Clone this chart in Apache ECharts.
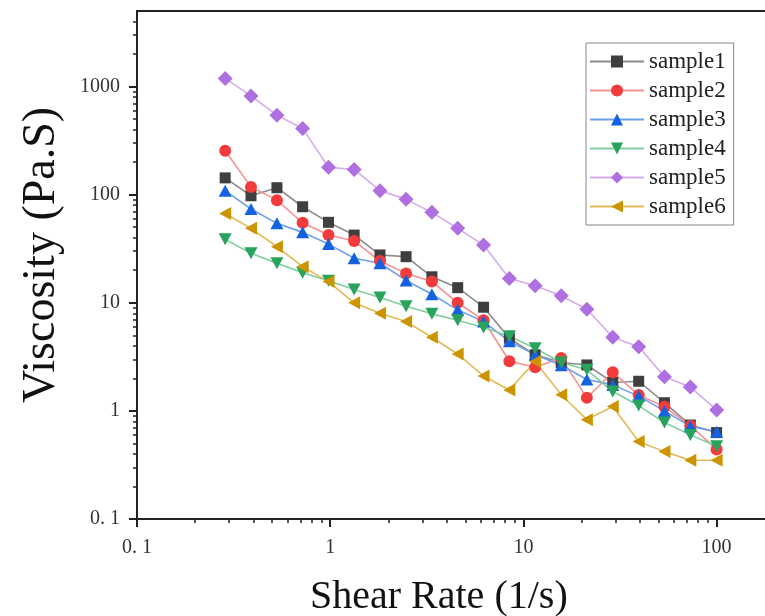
<!DOCTYPE html>
<html>
<head>
<meta charset="utf-8">
<title>Viscosity vs Shear Rate</title>
<script src="https://cdn.jsdelivr.net/npm/echarts@6/dist/echarts.min.js"></script>
<style>
  html, body { margin: 0; padding: 0; background: #fff; }
  #chart { width: 765px; height: 616px; }
</style>
</head>
<body>
<div id="chart"></div>
<script>
// shear rate (1/s), shared x values
const shearRate = [0.286, 0.389, 0.53, 0.72, 0.98, 1.33, 1.81, 2.47, 3.36, 4.57, 6.22, 8.46, 11.5, 15.7, 21.3, 29.0, 39.5, 53.7, 73.1, 100]

// viscosity (Pa.S) per sample
const sample1 = [143, 97.7, 116, 77.3, 55.5, 42.3, 27.7, 26.7, 17.4, 13.8, 9.1, 4.7, 3.3, 2.8, 2.66, 1.83, 1.88, 1.19, 0.74, 0.63]
const sample2 = [255, 118, 89, 55, 42.3, 37.3, 24.3, 18.7, 15.7, 10.0, 6.9, 2.88, 2.53, 3.08, 1.32, 2.28, 1.4, 1.09, 0.73, 0.44]
const sample3 = [109, 73.6, 54.3, 44.8, 34.9, 25.8, 23.2, 16.1, 12.0, 8.6, 6.7, 4.4, 3.3, 2.65, 1.95, 1.74, 1.37, 1.0, 0.72, 0.64]
const sample4 = [38.6, 28.7, 23.2, 19.0, 16.0, 13.3, 11.2, 9.3, 7.9, 6.9, 5.9, 4.9, 3.8, 2.8, 2.4, 1.51, 1.12, 0.78, 0.6, 0.47]
const sample5 = [1190, 820, 544, 410, 179, 171, 109, 90.5, 68.6, 48.8, 34.2, 16.8, 14.4, 11.6, 8.7, 4.8, 3.93, 2.07, 1.66, 1.02]
const sample6 = [67, 48.8, 33, 21.6, 15.7, 10.0, 8.0, 6.7, 4.8, 3.36, 2.1, 1.56, 2.86, 1.41, 0.83, 1.1, 0.52, 0.42, 0.35, 0.35]

const sampleNames = ['sample1', 'sample2', 'sample3', 'sample4', 'sample5', 'sample6']

// tick labels
const xTicks = [0.1, 1, 10, 100]
const yTicks = [0.1, 1, 10, 100, 1000]
const tickText = { 0.1: '0. 1', 1: '1', 10: '10', 100: '100', 1000: '1000' }

const serif = "'Liberation Serif', 'Times New Roman', serif"

// marker / line look per sample
const looks = [
  { symbol: 'rect', size: 11, rotate: 0, color: '#3f3f3f', line: '#8c8c8c' },
  { symbol: 'circle', size: 12, rotate: 0, color: '#f43b3b', line: '#f79090' },
  { symbol: 'triangle', size: [13, 12], rotate: 0, color: '#1562de', line: '#6c9ff2' },
  { symbol: 'triangle', size: [13, 12], rotate: 180, color: '#27a35c', line: '#7fcf9f' },
  { symbol: 'diamond', size: 15, rotate: 0, color: '#b06fe0', line: '#d2abf0' },
  { symbol: 'triangle', size: [13, 12], rotate: 90, color: '#cc9400', line: '#e2bb55' }
]

const allData = [sample1, sample2, sample3, sample4, sample5, sample6]

const series = allData.map((vals, i) => ({
  name: sampleNames[i],
  type: 'line',
  data: vals.map((v, j) => [shearRate[j], v]),
  symbol: looks[i].symbol,
  symbolSize: looks[i].size,
  symbolRotate: looks[i].rotate,
  showAllSymbol: true,
  itemStyle: { color: looks[i].color },
  lineStyle: { color: looks[i].line, width: 1.6 }
}))

const axisColor = '#222'

const chart = echarts.init(document.getElementById('chart'), null, { renderer: 'canvas' })

chart.setOption({
  backgroundColor: '#fff',
  animation: false,
  title: {
    text: 'Shear Rate (1/s)',
    left: 310,
    top: 577,
    padding: 0,
    textStyle: { fontFamily: serif, fontSize: 40, fontWeight: 'normal', color: '#111' }
  },
  grid: {
    left: 137,
    top: 11,
    bottom: 97,
    right: 0
  },
  legend: {
    data: sampleNames,
    orient: 'vertical',
    left: 586,
    top: 43,
    padding: [7, 8, 7, 3],
    itemWidth: 54,
    itemHeight: 15,
    itemGap: 6,
    borderColor: '#888',
    borderWidth: 1,
    borderRadius: 0,
    textStyle: { fontFamily: serif, fontSize: 23, color: '#222' }
  },
  xAxis: [
    {
      type: 'log',
      logBase: 10,
      min: 0.1,
      max: 178,
      axisLine: { show: true, lineStyle: { color: axisColor, width: 2 } },
      axisTick: { show: true, customValues: xTicks, length: 8, lineStyle: { color: axisColor, width: 2 } },
      minorTick: { show: true, splitNumber: 9, length: 4, lineStyle: { color: axisColor, width: 1.5 } },
      axisLabel: {
        customValues: xTicks,
        margin: 19,
        fontFamily: serif,
        fontSize: 20,
        color: '#333',
        formatter: v => tickText[v] !== undefined ? tickText[v] : ''
      },
      splitLine: { show: false },
      minorSplitLine: { show: false }
    },
    {
      // top frame line only
      type: 'log',
      logBase: 10,
      min: 0.1,
      max: 178,
      position: 'top',
      axisLine: { show: true, lineStyle: { color: axisColor, width: 2 } },
      axisTick: { show: false },
      axisLabel: { show: false },
      splitLine: { show: false }
    }
  ],
  yAxis: {
    type: 'log',
    logBase: 10,
    min: 0.1,
    max: 5000,
    name: 'Viscosity (Pa.S)',
    nameLocation: 'middle',
    nameGap: 72,
    nameTextStyle: { fontFamily: serif, fontSize: 46, color: '#111', padding: [0, 0, 0, 20] },
    axisLine: { show: true, lineStyle: { color: axisColor, width: 2 } },
    axisTick: { show: true, customValues: yTicks, length: 8, lineStyle: { color: axisColor, width: 2 } },
    minorTick: { show: true, splitNumber: 9, length: 4, lineStyle: { color: axisColor, width: 1.5 } },
    axisLabel: {
      customValues: yTicks,
      margin: 17,
      fontFamily: serif,
      fontSize: 20,
      color: '#333',
      formatter: v => tickText[v] !== undefined ? tickText[v] : ''
    },
    splitLine: { show: false },
    minorSplitLine: { show: false }
  },
  series: series
})
</script>
</body>
</html>
